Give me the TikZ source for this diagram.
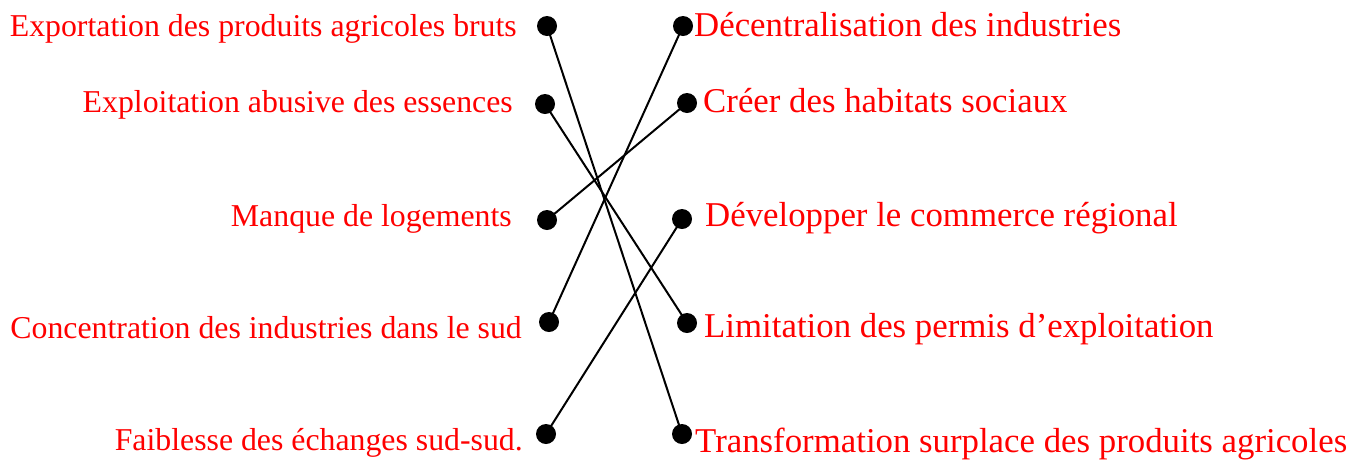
\documentclass[tikz,border=0pt]{standalone}
\usepackage{fontspec}
\setmainfont{Liberation Serif}
\begin{document}
\begin{tikzpicture}[x=1pt,y=-1pt,
  dot/.style={circle,fill=black,inner sep=0pt,minimum size=20pt},
  lbl/.style={text=red,inner sep=0pt,font=\fontsize{31.8}{38}\selectfont},
  rlbl/.style={text=red,inner sep=0pt,font=\fontsize{34.8}{40}\selectfont},
  link/.style={line width=2pt}]
\useasboundingbox (0,0) rectangle (1362,459);
% left dots
\node[dot] (L1) at (547,26) {};
\node[dot] (L2) at (545,104) {};
\node[dot] (L3) at (547,220) {};
\node[dot] (L4) at (549,322) {};
\node[dot] (L5) at (546,434) {};
% right dots
\node[dot] (R1) at (683,26) {};
\node[dot] (R2) at (687,103) {};
\node[dot] (R3) at (682,219) {};
\node[dot] (R4) at (687,323) {};
\node[dot] (R5) at (682,434) {};
% left labels
\node[lbl,anchor=base east] (TL1) at (517,36) {Exportation des produits agricoles bruts};
\node[lbl,anchor=base east] (TL2) at (513,112) {Exploitation abusive des essences};
\node[lbl,anchor=base east] (TL3) at (512,226) {Manque de logements};
\node[lbl,anchor=base east] (TL4) at (522,338) {Concentration des industries dans le sud};
\node[lbl,anchor=base east] (TL5) at (523,450) {Faiblesse des échanges sud-sud.};
% right labels
\node[rlbl,anchor=base west] (TR1) at (694,36) {Décentralisation des industries};
\node[rlbl,anchor=base west] (TR2) at (703,112) {Créer des habitats sociaux};
\node[rlbl,anchor=base west] (TR3) at (705,226) {Développer le commerce régional};
\node[rlbl,anchor=base west] (TR4) at (704,337) {Limitation des permis d’exploitation};
\node[rlbl,anchor=base west] (TR5) at (695,452) {Transformation surplace des produits agricoles};
% links
\draw[link] (L1.center) -- (R5.center);
\draw[link] (L2.center) -- (R4.center);
\draw[link] (L3.center) -- (R2.center);
\draw[link] (L4.center) -- (R1.center);
\draw[link] (L5.center) -- (R3.center);
\end{tikzpicture}
\end{document}
